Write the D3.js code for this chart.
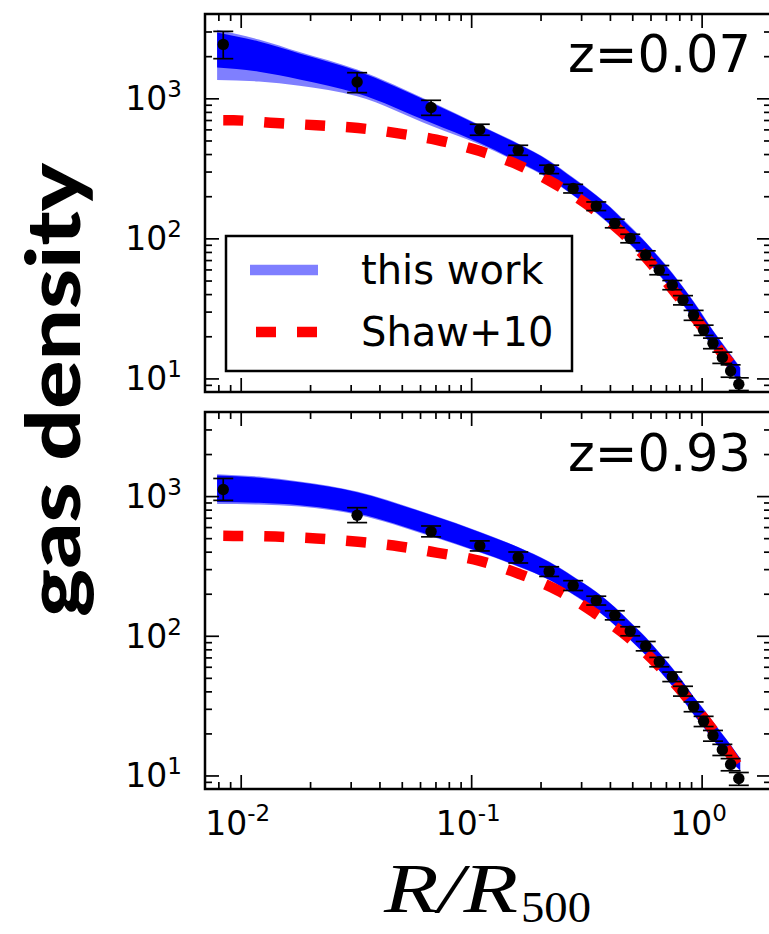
<!DOCTYPE html>
<html>
<head>
<meta charset="utf-8">
<script src="https://cdn.jsdelivr.net/npm/d3@7"></script>
<style>
  html, body { margin: 0; padding: 0; background: #fff; }
  svg { display: block; }
</style>
</head>
<body>
<svg id="chart" width="769" height="934"></svg>
<script>
// Radial bins (R/R500) shared by both redshift panels
const radii = [0.0084, 0.032, 0.067, 0.109, 0.16, 0.218, 0.277, 0.349, 0.42, 0.49,
               0.572, 0.655, 0.746, 0.83, 0.923, 1.02, 1.12, 1.23, 1.336, 1.45];

// z = 0.07 measured profile with error bounds
const lowZValues = [2427, 1307, 859, 598, 425, 312, 227, 170, 128, 100,
                    76, 59.3, 46.4, 36.2, 28.3, 22.1, 17.8, 14.1, 11.3, 9.1];
const lowZErrLo  = [1919, 1098, 756, 545, 392, 290, 211, 158, 119, 93,
                    70.5, 55, 43, 33.5, 26, 20.3, 16.3, 12.8, 10.2, 8.2];
const lowZErrHi  = [3006, 1524, 968, 653, 462, 333, 243, 182, 137, 107,
                    81.5, 64, 50, 39, 30.6, 24, 19.4, 15.4, 12.5, 10.1];

// z = 0.93 measured profile with error bounds
const highZValues = [1116, 729, 557, 440, 364, 289, 229, 179, 140, 108,
                     84.5, 65.1, 50.9, 40.3, 31.1, 24.4, 19.3, 15.3, 12.0, 9.5];
const highZErrLo  = [932, 646, 511, 405, 332, 266, 211, 166, 130, 100,
                     78, 60, 47, 37, 28.6, 22.4, 17.6, 13.9, 10.8, 8.5];
const highZErrHi  = [1337, 826, 611, 478, 398, 312, 248, 192, 151, 116,
                     91, 70, 55, 43.5, 33.6, 26.5, 21, 16.7, 13.2, 10.5];

// "this work" model envelope: outer (translucent) and inner (solid) bounds
const bandRadii = [0.0079, 0.012, 0.018, 0.032, 0.067, 0.109, 0.16, 0.218, 0.277, 0.349, 0.42,
                   0.49, 0.572, 0.655, 0.746, 0.83, 0.923, 1.02, 1.12, 1.23, 1.336, 1.47];
const lowZOuterHi = [3090, 2630, 2138, 1603, 944, 646, 476, 360, 272, 204, 157,
                     122, 94.4, 73.3, 56.9, 45.2, 35.5, 27.9, 22.1, 17.9, 14.9, 12.0];
const lowZOuterLo = [1349, 1318, 1230, 1035, 638, 468, 348, 265, 202, 151, 116,
                     90.2, 70, 54.3, 42.2, 33.5, 26.3, 20.7, 16.4, 13.4, 11.2, 9.1];
const lowZInnerHi = [2951, 2541, 2089, 1574, 929, 638, 471, 356, 269, 202, 155,
                     120, 93.3, 72.4, 56.2, 44.7, 35.1, 27.5, 21.9, 17.7, 14.7, 11.9];
const lowZInnerLo = [1660, 1549, 1365, 1089, 668, 479, 352, 269, 204, 153, 117.5,
                     91.2, 70.8, 55, 42.7, 33.9, 26.6, 20.9, 16.6, 13.6, 11.3, 9.2];
const highZOuterHi = [1436, 1380, 1274, 1079, 738, 556, 432, 340, 267, 207, 161,
                      126, 98, 76, 59, 46.9, 36.8, 29.9, 24.3, 19.9, 16.6, 13.3];
const highZOuterLo = [877, 871, 841, 736, 515, 394, 312, 251, 197, 153, 119,
                      93.1, 72.3, 56.1, 43.6, 34.6, 27.2, 22.1, 18, 14.9, 12.6, 10.8];
const highZInnerHi = [1403, 1355, 1256, 1067, 731, 552, 430, 337, 265, 206, 160,
                      125, 97.3, 75.5, 58.6, 46.6, 36.6, 29.7, 24.1, 19.7, 16.5, 13.2];
const highZInnerLo = [908, 895, 861, 750, 522, 398, 315, 252, 198, 154, 119,
                      93.8, 72.8, 56.5, 43.9, 34.8, 27.4, 22.2, 18.1, 15, 12.7, 10.9];

// Shaw+10 model curves
const lowZShawR = [0.0084, 0.00933, 0.01415, 0.0213, 0.0323, 0.049, 0.0706, 0.109, 0.161,
                   0.232, 0.329, 0.449, 0.595, 0.777, 0.997, 1.297, 1.47];
const lowZShaw  = [698, 697, 667, 642, 614, 560, 506, 420, 333,
                   244, 168, 111, 68, 40, 23.7, 13.5, 10.8];
const highZShawR = [0.0084, 0.00933, 0.01415, 0.0213, 0.0323, 0.049, 0.0706, 0.109, 0.162,
                    0.238, 0.338, 0.479, 0.647, 0.858, 1.12, 1.41, 1.47];
const highZShaw  = [520, 519, 513, 497, 471, 436, 394, 344, 277,
                    211, 148, 98, 61.7, 36.6, 21.2, 12.3, 11];

// Axis ticks and labels
const xMajor = [0.01, 0.1, 1];
const xMajorExp = ["-2", "-1", "0"];
const yMajor = [10, 100, 1000];
const yMajorExp = ["1", "2", "3"];
const panelTitles = ["z=0.07", "z=0.93"];
const legendLabels = ["this work", "Shaw+10"];

const svg = d3.select("#chart");
const x = d3.scaleLog().domain([0.007, 2]).range([205, 771]);
const xMinor = [];
[0.001, 0.01, 0.1, 1].forEach(d => { for (let k = 2; k <= 9; k++) { const v = k * d; if (v > 0.007 && v < 2) xMinor.push(v); } });
const yMinor = [];
[1, 10, 100, 1000].forEach(d => { for (let k = 2; k <= 9; k++) { const v = k * d; if (v > 8 && v < 4000) yMinor.push(v); } });

const panels = [
  { top: 14, bottom: 392, title: panelTitles[0], titleY: 72,
    vals: lowZValues, lo: lowZErrLo, hi: lowZErrHi,
    oLo: lowZOuterLo, oHi: lowZOuterHi, iLo: lowZInnerLo, iHi: lowZInnerHi,
    shawR: lowZShawR, shaw: lowZShaw, legend: true, xlabels: false },
  { top: 412, bottom: 789, title: panelTitles[1], titleY: 471,
    vals: highZValues, lo: highZErrLo, hi: highZErrHi,
    oLo: highZOuterLo, oHi: highZOuterHi, iLo: highZInnerLo, iHi: highZInnerHi,
    shawR: highZShawR, shaw: highZShaw, legend: false, xlabels: true }
];

const FONT = "'DejaVu Sans', sans-serif";

panels.forEach((p, pi) => {
  const y = d3.scaleLog().domain([8, 4000]).range([p.bottom, p.top]);
  const g = svg.append("g");
  const clipId = "clip" + pi;
  svg.append("clipPath").attr("id", clipId).append("rect")
    .attr("x", x.range()[0]).attr("y", p.top)
    .attr("width", x.range()[1] - x.range()[0]).attr("height", p.bottom - p.top);
  const plot = g.append("g").attr("clip-path", `url(#${clipId})`);

  // model envelope
  const area = d3.area().x(d => x(d.r)).y0(d => y(d.lo)).y1(d => y(d.hi)).curve(d3.curveMonotoneX);
  const outer = bandRadii.map((r, i) => ({ r, lo: p.oLo[i], hi: p.oHi[i] }));
  const inner = bandRadii.map((r, i) => ({ r, lo: p.iLo[i], hi: p.iHi[i] }));
  plot.append("path").datum(outer).attr("d", area).attr("fill", "#0000ff").attr("fill-opacity", 0.5);
  plot.append("path").datum(inner).attr("d", area).attr("fill", "#0000ff");

  // Shaw+10 curve
  const line = d3.line().x(d => x(d.r)).y(d => y(d.v)).curve(d3.curveMonotoneX);
  plot.append("path").datum(p.shawR.map((r, i) => ({ r, v: p.shaw[i] })))
    .attr("d", line).attr("fill", "none").attr("stroke", "#ff0000")
    .attr("stroke-width", 10.5).attr("stroke-dasharray", "20,21");

  // data points with error bars
  const pts = plot.append("g");
  radii.forEach((r, i) => {
    const cx = x(r);
    pts.append("line").attr("x1", cx).attr("x2", cx).attr("y1", y(p.lo[i])).attr("y2", y(p.hi[i]))
      .attr("stroke", "#000").attr("stroke-width", 1.7);
    [p.lo[i], p.hi[i]].forEach(v => {
      pts.append("line").attr("x1", cx - 10).attr("x2", cx + 10).attr("y1", y(v)).attr("y2", y(v))
        .attr("stroke", "#000").attr("stroke-width", 1.7);
    });
    pts.append("circle").attr("cx", cx).attr("cy", y(p.vals[i])).attr("r", 5.7).attr("fill", "#000");
  });

  // inward ticks on all four sides
  const tickStyle = sel => { sel.select(".domain").remove(); sel.selectAll("line").attr("stroke", "#000").attr("stroke-width", 1.7); sel.selectAll("text").remove(); };
  g.append("g").attr("transform", `translate(0,${p.bottom})`).call(d3.axisBottom(x).tickValues(xMajor).tickSize(-14).tickFormat("")).call(tickStyle);
  g.append("g").attr("transform", `translate(0,${p.bottom})`).call(d3.axisBottom(x).tickValues(xMinor).tickSize(-7).tickFormat("")).call(tickStyle);
  g.append("g").attr("transform", `translate(0,${p.top})`).call(d3.axisTop(x).tickValues(xMajor).tickSize(-14).tickFormat("")).call(tickStyle);
  g.append("g").attr("transform", `translate(0,${p.top})`).call(d3.axisTop(x).tickValues(xMinor).tickSize(-7).tickFormat("")).call(tickStyle);
  g.append("g").attr("transform", `translate(${x.range()[0]},0)`).call(d3.axisLeft(y).tickValues(yMajor).tickSize(-14).tickFormat("")).call(tickStyle);
  g.append("g").attr("transform", `translate(${x.range()[0]},0)`).call(d3.axisLeft(y).tickValues(yMinor).tickSize(-7).tickFormat("")).call(tickStyle);
  g.append("g").attr("transform", `translate(${x.range()[1]},0)`).call(d3.axisRight(y).tickValues(yMajor).tickSize(-14).tickFormat("")).call(tickStyle);
  g.append("g").attr("transform", `translate(${x.range()[1]},0)`).call(d3.axisRight(y).tickValues(yMinor).tickSize(-7).tickFormat("")).call(tickStyle);

  // frame
  g.append("rect").attr("x", x.range()[0]).attr("y", p.top)
    .attr("width", x.range()[1] - x.range()[0]).attr("height", p.bottom - p.top)
    .attr("fill", "none").attr("stroke", "#000").attr("stroke-width", 2.5);

  // y tick labels
  yMajor.forEach((v, i) => {
    const t = g.append("text").attr("x", 182).attr("y", y(v) + 12).attr("text-anchor", "end")
      .attr("font-family", FONT).attr("font-size", 33).attr("fill", "#000");
    t.append("tspan").text("10");
    t.append("tspan").attr("font-size", 23).attr("dy", -13).text(yMajorExp[i]);
  });

  // x tick labels on the lower panel
  if (p.xlabels) {
    xMajor.forEach((v, i) => {
      const t = g.append("text").attr("x", x(v) - 3).attr("y", 835).attr("text-anchor", "middle")
        .attr("font-family", FONT).attr("font-size", 33).attr("fill", "#000");
      t.append("tspan").text("10");
      t.append("tspan").attr("font-size", 23).attr("dy", -14).text(xMajorExp[i]);
    });
  }

  // redshift label
  g.append("text").attr("x", 751).attr("y", p.titleY).attr("text-anchor", "end")
    .attr("font-family", FONT).attr("font-size", 51).attr("fill", "#000").text(p.title);

  // legend
  if (p.legend) {
    const lg = g.append("g");
    lg.append("rect").attr("x", 226).attr("y", 236).attr("width", 346).attr("height", 135)
      .attr("fill", "#fff").attr("stroke", "#000").attr("stroke-width", 2.5);
    lg.append("line").attr("x1", 250).attr("x2", 318).attr("y1", 270).attr("y2", 270)
      .attr("stroke", "#0000ff").attr("stroke-opacity", 0.5).attr("stroke-width", 10.5);
    lg.append("line").attr("x1", 256).attr("x2", 318).attr("y1", 332).attr("y2", 332)
      .attr("stroke", "#ff0000").attr("stroke-width", 10.5).attr("stroke-dasharray", "20,21");
    lg.append("text").attr("x", 361).attr("y", 284).attr("font-family", FONT).attr("font-size", 40).text(legendLabels[0]);
    lg.append("text").attr("x", 361).attr("y", 346).attr("font-family", FONT).attr("font-size", 40).text(legendLabels[1]);
  }
});

// y axis title
svg.append("text").attr("transform", "translate(80,390) rotate(-90)")
  .attr("text-anchor", "middle").attr("font-family", "Lato, 'Open Sans', sans-serif")
  .attr("font-weight", 900).attr("font-size", 74)
  .attr("textLength", 454).attr("lengthAdjust", "spacingAndGlyphs")
  .attr("fill", "#000").text("gas density");

// x axis title: R/R_500
svg.append("text").attr("x", 384).attr("y", 912)
  .attr("font-family", "'Liberation Serif', 'DejaVu Serif', serif").attr("font-style", "italic")
  .attr("font-size", 70).attr("textLength", 134).attr("lengthAdjust", "spacingAndGlyphs")
  .attr("fill", "#000").text("R/R");
svg.append("text").attr("x", 521).attr("y", 922)
  .attr("font-family", "'Liberation Serif', 'DejaVu Serif', serif")
  .attr("font-size", 44).attr("textLength", 70).attr("lengthAdjust", "spacingAndGlyphs")
  .attr("fill", "#000").text("500");
</script>
</body>
</html>
